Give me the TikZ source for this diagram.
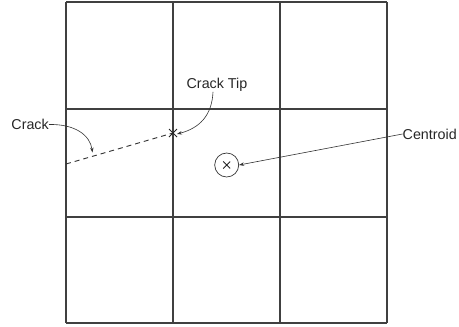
\documentclass[tikz,border=0pt]{standalone}
\usepackage{fontspec}
\setmainfont{Liberation Sans}
\usetikzlibrary{arrows.meta}
\begin{document}
\begin{tikzpicture}[x=1pt,y=-1pt,
  gridline/.style={line width=1.1pt,draw=black!75},
  lbl/.style={font=\fontsize{14.3}{16}\selectfont,inner sep=0pt,text=black!85},
  pointer/.style={line width=0.6pt,draw=black!80,-{Stealth[length=5pt,width=3.5pt]}},
  cracksty/.style={line width=0.9pt,dashed,dash pattern=on 5pt off 4pt,draw=black!80}]
\useasboundingbox (0,0) rectangle (459,327);
% grid
\foreach \x in {66,173,280,387} \draw[gridline] (\x,2) -- (\x,323);
\foreach \y in {2,109,217,323} \draw[gridline] (66,\y) -- (387,\y);
% crack
\coordinate (cstart) at (66,164);
\coordinate (tip) at (173,133);
\draw[cracksty] (cstart) -- (tip);
\draw[line width=1pt,black!85] (169,129) -- (177,137) (169,137) -- (177,129);
% centroid
\node[circle,draw=black!80,line width=0.7pt,minimum size=24pt,inner sep=0pt] (cen) at (226.7,165) {};
\draw[line width=0.8pt,black!85] (223.2,161.5) -- (230.2,168.5) (223.2,168.5) -- (230.2,161.5);
% labels
\node[lbl,anchor=east] (crack) at (49,124.5) {Crack};
\node[lbl] (ctip) at (217,85) {Crack Tip};
\node[lbl,anchor=west] (centroid) at (402.5,134) {Centroid};
% pointers
\coordinate (crackpt) at (92.5,152.5);
\draw[pointer] (crack.east) .. controls (75,124) and (90,135) .. (crackpt);
\draw[pointer] (ctip.south -| 213,0) .. controls (212,115) and (200,128) .. ([xshift=4pt,yshift=-1pt]tip);
\draw[pointer] (centroid.west) -- (cen.east);
\end{tikzpicture}
\end{document}
